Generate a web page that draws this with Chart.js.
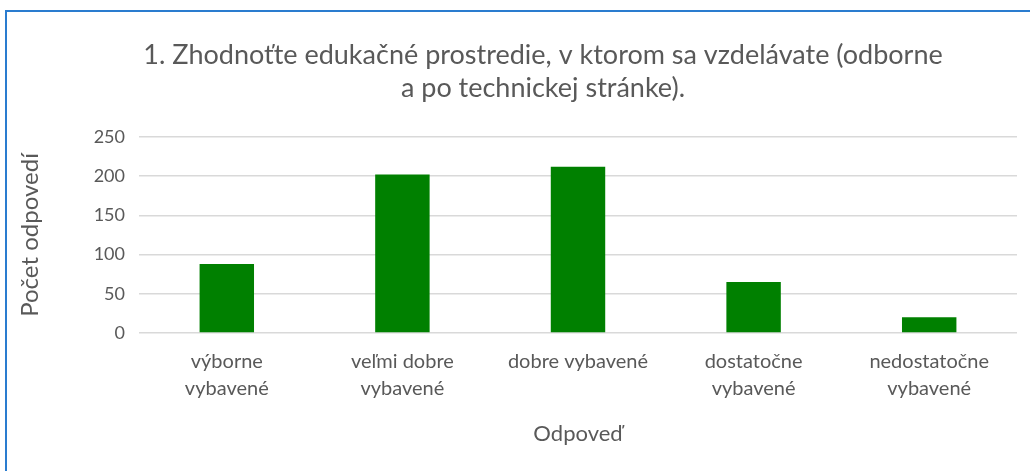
<!DOCTYPE html>
<html>
<head>
<meta charset="utf-8">
<script src="https://cdn.jsdelivr.net/npm/chart.js@4/dist/chart.umd.min.js"></script>
<style>
  html, body { margin: 0; padding: 0; background: #fff; overflow: hidden; }
  #box {
    position: absolute; left: 5px; top: 10px;
    width: 1072px; height: 470px;
    border: 2px solid #2a7ccf;
    background: #fff;
  }
  #wrap { position: relative; width: 1072px; height: 470px; }
</style>
</head>
<body>
<div id="box"><div id="wrap"><canvas id="barChart"></canvas></div></div>
<script>
const categories = [
    ['výborne', 'vybavené'],
    ['veľmi dobre', 'vybavené'],
    'dobre vybavené',
    ['dostatočne', 'vybavené'],
    ['nedostatočne', 'vybavené']
];
const answers = [88, 202, 212, 65, 20];
const yTicks = [0, 50, 100, 150, 200, 250];

const grey = '#595959';
const fontName = 'Lato, "Open Sans", sans-serif';

const ctx = document.getElementById('barChart').getContext('2d');
new Chart(ctx, {
    type: 'bar',
    data: {
        labels: categories,
        datasets: [{
            label: 'Počet odpovedí',
            data: answers,
            backgroundColor: '#008000',
            borderColor: '#008000',
            borderWidth: 0,
            barPercentage: 0.62,
            categoryPercentage: 0.5
        }]
    },
    options: {
        responsive: true,
        maintainAspectRatio: false,
        animation: false,
        layout: {
            padding: { left: 0, right: 0, top: 0, bottom: 26 }
        },
        plugins: {
            legend: { display: false },
            tooltip: { enabled: false },
            title: {
                display: true,
                text: ['1. Zhodnoťte edukačné prostredie, v ktorom sa vzdelávate (odborne', 'a po technickej stránke).'],
                color: grey,
                font: { family: fontName, size: 27, weight: 'normal', lineHeight: 1.22 },
                padding: { top: 27, bottom: 32 }
            }
        },
        scales: {
            x: {
                grid: { display: false, drawTicks: false },
                border: { display: false },
                ticks: {
                    color: grey,
                    font: { family: fontName, size: 20, lineHeight: 1.35 },
                    padding: 15,
                    maxRotation: 0,
                    autoSkip: false
                },
                title: {
                    display: true,
                    text: 'Odpoveď',
                    color: grey,
                    font: { family: fontName, size: 22, lineHeight: 1.2 },
                    padding: { top: 0, bottom: 9 }
                },
                afterFit: function (scale) { scale.height = 123; }
            },
            y: {
                min: 0,
                max: 250,
                afterBuildTicks: function (scale) {
                    scale.ticks = yTicks.map(v => ({ value: v }));
                },
                grid: { color: '#d9d9d9', lineWidth: 1.5, drawTicks: false },
                border: { display: false },
                ticks: {
                    color: grey,
                    font: { family: fontName, size: 18 },
                    padding: 14
                },
                title: {
                    display: true,
                    text: 'Počet odpovedí',
                    color: grey,
                    font: { family: fontName, size: 24, lineHeight: 1.2 },
                    padding: { top: 9, bottom: 0 }
                },
                afterFit: function (scale) { scale.width = 132; }
            },
            // empty right-hand axis: keeps the plot narrower while the title stays centred in the whole box
            yRight: {
                type: 'linear',
                position: 'right',
                grid: { display: false, drawTicks: false },
                border: { display: false },
                ticks: { display: false },
                afterFit: function (scale) { scale.width = 62; }
            }
        }
    }
});
</script>
</body>
</html>
